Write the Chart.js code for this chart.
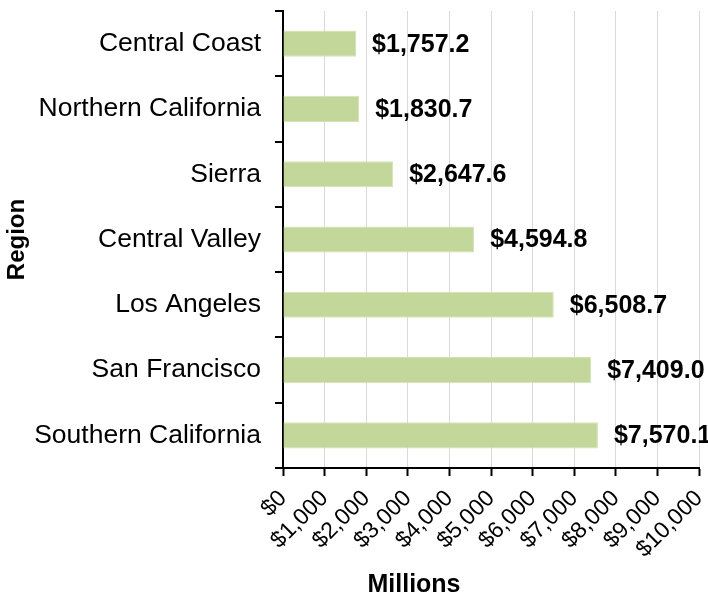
<!DOCTYPE html>
<html>
<head>
<meta charset="utf-8">
<script src="https://cdn.jsdelivr.net/npm/chart.js@4/dist/chart.umd.min.js"></script>
<style>
  html, body { margin: 0; padding: 0; background: #ffffff; }
  #wrap { width: 708px; height: 599px; }
</style>
</head>
<body>
<div id="wrap"><canvas id="chart" width="708" height="599"></canvas></div>
<script>
// Regional totals, in millions of dollars
const regions = [
  'Central Coast',
  'Northern California',
  'Sierra',
  'Central Valley',
  'Los Angeles',
  'San Francisco',
  'Southern California'
];
const totals = [1757.2, 1830.7, 2647.6, 4594.8, 6508.7, 7409.0, 7570.1];
const xTickLabels = ['$0', '$1,000', '$2,000', '$3,000', '$4,000', '$5,000',
                     '$6,000', '$7,000', '$8,000', '$9,000', '$10,000'];

const FONT = '"Liberation Sans", Arial, Helvetica, sans-serif';

const money = v => '$' + v.toLocaleString('en-US', { minimumFractionDigits: 1, maximumFractionDigits: 1 });

// Drop the automatic label overhang padding so the plot box sits where the layout puts it
const noOverhang = scale => {
  scale.paddingLeft = 0;
  scale.paddingRight = 0;
  scale.paddingTop = 0;
  scale.paddingBottom = 0;
};

// Value labels to the right of each bar
const barValueLabels = {
  id: 'barValueLabels',
  afterDatasetsDraw(chart) {
    const { ctx } = chart;
    const meta = chart.getDatasetMeta(0);
    ctx.save();
    ctx.font = 'bold 25px ' + FONT;
    ctx.fillStyle = '#000000';
    ctx.textAlign = 'left';
    ctx.textBaseline = 'middle';
    meta.data.forEach((bar, i) => {
      ctx.fillText(money(totals[i]), bar.x + 16, bar.y + 1);
    });
    ctx.restore();
  }
};

// Horizontal axis title, set left of the plot's centre
const xAxisTitle = {
  id: 'xAxisTitle',
  afterDraw(chart) {
    const { ctx, chartArea } = chart;
    ctx.save();
    ctx.font = 'bold 25px ' + FONT;
    ctx.fillStyle = '#000000';
    ctx.textAlign = 'center';
    ctx.textBaseline = 'middle';
    ctx.fillText('Millions', chartArea.left + 131, chart.height - 14);
    ctx.restore();
  }
};

new Chart(document.getElementById('chart'), {
  type: 'bar',
  data: {
    labels: regions,
    datasets: [{
      data: totals,
      backgroundColor: '#c4d79b',
      borderColor: '#d4e2b6',
      borderWidth: 1,
      categoryPercentage: 1.0,
      barPercentage: 0.4
    }]
  },
  options: {
    indexAxis: 'y',
    responsive: false,
    animation: false,
    layout: { padding: { top: 11, right: 9, left: 0, bottom: 0 } },
    plugins: {
      legend: { display: false },
      tooltip: { enabled: false }
    },
    scales: {
      x: {
        min: 0,
        max: 10000,
        afterFit(scale) { scale.height = 131; noOverhang(scale); },
        ticks: {
          stepSize: 1000,
          autoSkip: false,
          maxRotation: 45,
          minRotation: 45,
          padding: 9,
          color: '#000000',
          font: { family: FONT, size: 23 },
          callback: (value, index) => xTickLabels[index]
        },
        grid: {
          color: '#d9d9d9',
          lineWidth: 1,
          tickColor: '#000000',
          tickLength: 8,
          tickWidth: 2
        },
        border: { color: '#000000', width: 2 }
      },
      y: {
        afterFit(scale) { scale.width = 283; noOverhang(scale); },
        ticks: {
          autoSkip: false,
          padding: 14,
          color: '#000000',
          font: { family: FONT, size: 26.5 }
        },
        grid: {
          drawOnChartArea: false,
          color: '#000000',
          tickLength: 8,
          lineWidth: 2
        },
        border: { color: '#000000', width: 2 },
        title: {
          display: true,
          text: 'Region',
          color: '#000000',
          font: { family: FONT, size: 24, weight: 'bold' },
          padding: { top: 3, bottom: 0 }
        }
      }
    }
  },
  plugins: [barValueLabels, xAxisTitle]
});
</script>
</body>
</html>
